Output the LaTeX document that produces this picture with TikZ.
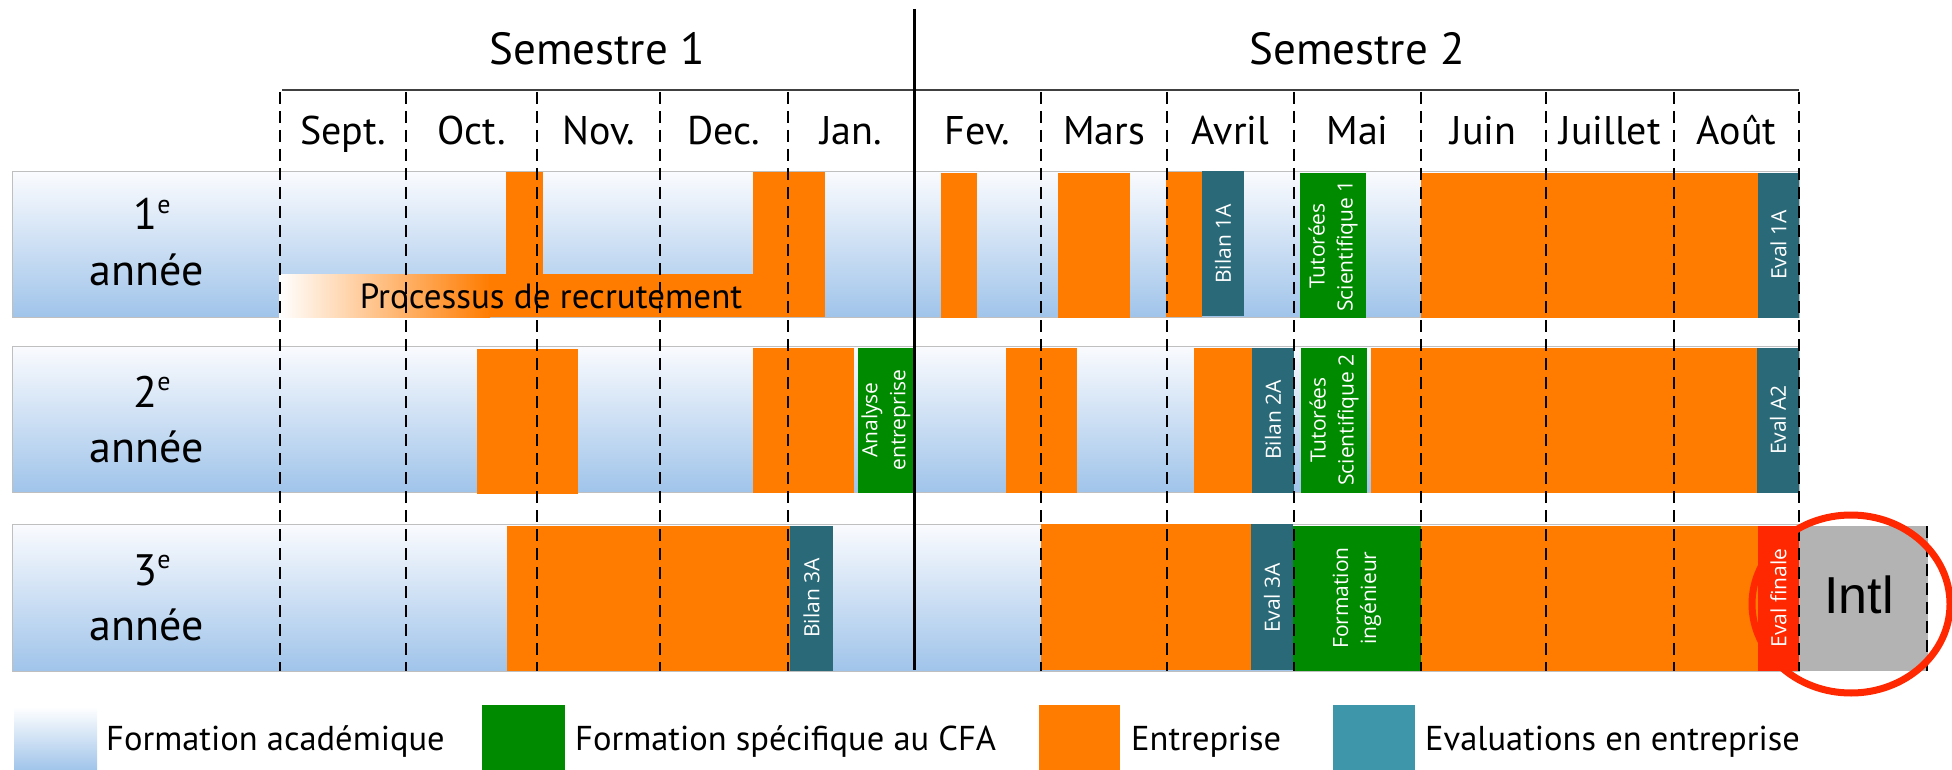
\documentclass[tikz,border=0pt]{standalone}
\usepackage{fontspec}
\setmainfont{PT Sans}
\newfontfamily\barfont{Open Sans}
\newfontfamily\intlfont{Liberation Sans}
\definecolor{entreprise}{RGB}{255,124,0}
\definecolor{cfavert}{RGB}{0,138,0}
\definecolor{evalbleu}{RGB}{42,106,120}
\definecolor{evalclair}{RGB}{61,150,170}
\definecolor{evalrouge}{RGB}{255,40,0}
\definecolor{intlgris}{RGB}{179,179,179}
\definecolor{acabas}{RGB}{160,196,234}
\definecolor{acahaut}{RGB}{250,251,254}
\newcommand{\expe}{\raisebox{17pt}{\fontsize{26}{26}\selectfont e}}

\begin{document}
\begin{tikzpicture}[x=1pt,y=-1pt,
    academ/.style={top color=acahaut,bottom color=acabas,draw=black!25,line width=1pt},
    tirets/.style={line width=2.6pt,dash pattern=on 12pt off 7pt},
    vtexte/.style={rotate=90,text=white,font=\barfont\fontsize{21}{28}\selectfont,align=center,inner sep=0pt},
    titre/.style={font=\fontsize{45}{50}\selectfont,anchor=base},
    mois/.style={font=\fontsize{40}{46}\selectfont,anchor=base},
    legende/.style={font=\fontsize{34.5}{38}\selectfont,anchor=base west,inner sep=0pt}]
    \useasboundingbox (0,0) rectangle (1952,770);

    \node[titre] (sem1) at (597,65) {Semestre 1};
    \node[titre] (sem2) at (1357,65) {Semestre 2};
    \draw[line width=2pt,black!75] (282,90) -- (1799,90);
    \foreach \x/\m [count=\i] in {343/Sept.,471.5/Oct.,598.5/Nov.,724/Dec.,851/Jan.,977.5/Fev.,1104/Mars,1230.5/Avril,1357.5/Mai,1483.5/Juin,1610/Juillet,1736.5/Août}
        \node[mois] (mois\i) at (\x,145) {\m};

    \shade[academ] (12,172) rectangle (1799,317);
    \shade[academ] (12,346) rectangle (1799,492);
    \shade[academ] (12,524) rectangle (1799,671);
    \foreach \y/\a [count=\i] in {230/1,407/2,585/3} {
        \node[titre,font=\fontsize{44}{50}\selectfont] (num\i) at (152,\y) {\a\expe};
        \node[titre,font=\fontsize{44}{50}\selectfont] (annee\i) at (147,\y+55) {année};
    }

    % 1e annee
    \fill[entreprise] (506,172) rectangle (543,317);
    \fill[entreprise] (753,172) rectangle (825,317);
    \shade[left color=white,right color=entreprise] (279,274) rectangle (490,317);
    \fill[entreprise] (489,274) rectangle (825,317);
    \node[font=\fontsize{35}{40}\selectfont,anchor=base] (recrut) at (551,308) {Processus de recrutement};
    \fill[entreprise] (941,173) rectangle (977,318);
    \fill[entreprise] (1058,173) rectangle (1130,318);
    \fill[entreprise] (1166,172) rectangle (1202,317);
    \fill[evalbleu] (1202,171) rectangle (1244,316);
    \node[vtexte] (bilan1) at (1223,244) {Bilan 1A};
    \fill[cfavert] (1300,173) rectangle (1366,318);
    \node[vtexte] (tuto1) at (1333,246) {Tutorées\\Scientifique 1};
    \fill[entreprise] (1421,173) rectangle (1758,318);
    \fill[evalbleu] (1758,173) rectangle (1799,318);
    \node[vtexte] (eval1) at (1778.5,245) {Eval 1A};

    % 2e annee
    \fill[entreprise] (477,349) rectangle (578,494);
    \fill[entreprise] (753,348) rectangle (854,493);
    \fill[cfavert] (858,348) rectangle (914,493);
    \node[vtexte] (analyse) at (886,420) {Analyse\\entreprise};
    \fill[entreprise] (1006,348) rectangle (1077,493);
    \fill[entreprise] (1194,348) rectangle (1252,493);
    \fill[evalbleu] (1252,348) rectangle (1294,493);
    \node[vtexte] (bilan2) at (1273,420) {Bilan 2A};
    \fill[cfavert] (1301,348) rectangle (1367,493);
    \node[vtexte] (tuto2) at (1334,420) {Tutorées\\Scientifique 2};
    \fill[entreprise] (1371,348) rectangle (1757,493);
    \fill[evalbleu] (1757,348) rectangle (1799,493);
    \node[vtexte] (eval2) at (1778,420) {Eval A2};

    % 3e annee
    \fill[entreprise] (507,526) rectangle (790,671);
    \fill[evalbleu] (790,526) rectangle (833,671);
    \node[vtexte] (bilan3) at (811.5,598) {Bilan 3A};
    \fill[entreprise] (1041,524) rectangle (1251,670);
    \fill[evalbleu] (1251,524) rectangle (1293,670);
    \node[vtexte] (eval3) at (1272,598) {Eval 3A};
    \fill[cfavert] (1293,526) rectangle (1421,671);
    \node[vtexte] (formation) at (1357,598) {Formation\\ingénieur};
    \fill[entreprise] (1421,526) rectangle (1758,671);
    \fill[evalrouge] (1758,526) rectangle (1799,671);
    \node[vtexte] (finale) at (1778.5,598) {Eval finale};
    \fill[intlgris] (1799,526) rectangle (1928,671);
    \node[font=\intlfont\fontsize{52}{60}\selectfont,anchor=base] (intl) at (1859,613) {Intl};

    \foreach \x in {280,406,537,660,788,1041,1167,1294,1421,1546,1674,1799}
        \draw[tirets] (\x,92) -- (\x,671);
    \draw[tirets] (1927,526) -- (1927,671);
    \draw[line width=3pt] (914,9) -- (914,670);
    \draw[evalrouge,line width=7pt] (1851,604) ellipse [x radius=99,y radius=89];

    % legende
    \shade[top color=white,bottom color=acabas] (14,707) rectangle (97,770);
    \node[legende] (lacad) at (106,750) {Formation académique};
    \fill[cfavert] (482,705) rectangle (565,770);
    \node[legende] (lcfa) at (575,750) {Formation spécifique au CFA};
    \fill[entreprise] (1039,705) rectangle (1120,770);
    \node[legende] (lentr) at (1131,750) {Entreprise};
    \fill[evalclair] (1333,705) rectangle (1415,770);
    \node[legende] (leval) at (1425,750) {Evaluations en entreprise};
\end{tikzpicture}
\end{document}
